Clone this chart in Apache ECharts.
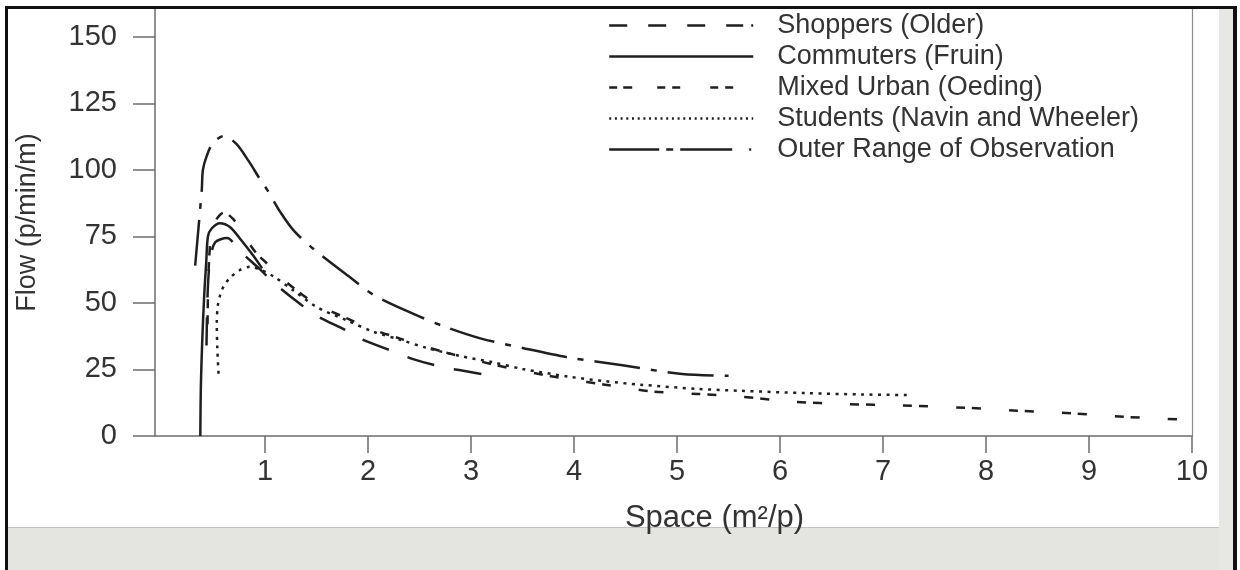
<!DOCTYPE html>
<html>
<head>
<meta charset="utf-8">
<script src="https://cdn.jsdelivr.net/npm/echarts@6/dist/echarts.min.js"></script>
<style>
  html, body { margin: 0; padding: 0; background: #fff; }
  #chart { width: 1240px; height: 570px; }
</style>
</head>
<body>
<div id="chart"></div>
<script>
// Flow (p/min/m) against space per pedestrian (m²/p) for several walker groups.
const seriesNames = [
  'Shoppers (Older)',
  'Commuters (Fruin)',
  'Mixed Urban (Oeding)',
  'Students (Navin and Wheeler)',
  'Outer Range of Observation'
];

const xTicks = [1, 2, 3, 4, 5, 6, 7, 8, 9, 10];
const yTicks = [0, 25, 50, 75, 100, 125, 150];

// [space, flow]
const shoppers = [
  [0.43, 34], [0.435, 45], [0.445, 57], [0.466, 66.5], [0.515, 72.8], [0.628, 74.4],
  [0.76, 69.3], [0.95, 62.6], [1.11, 56.7], [1.34, 49.6], [1.5, 45.2], [1.78, 39.8],
  [1.94, 36.3], [2.25, 31.7], [2.42, 29.1], [2.73, 25.8], [2.91, 24.6], [3.25, 22.2]
];

const commuters = [
  [0.37, 0], [0.375, 18], [0.388, 35], [0.408, 53], [0.427, 65], [0.444, 75],
  [0.48, 78], [0.56, 80], [0.66, 78.5], [0.77, 73.5], [0.88, 68], [0.97, 63]
];

const mixedUrban = [
  [0.44, 42], [0.445, 55], [0.455, 66], [0.475, 75], [0.52, 81], [0.6, 84],
  [0.69, 81.5], [0.78, 76.5], [0.86, 71.5], [0.93, 68], [1.0, 65.5], [1.1, 61.5],
  [1.28, 55.5], [1.5, 49.5], [1.79, 44.3], [2.05, 40], [2.31, 36.6], [2.57, 33.4],
  [2.89, 30], [3.2, 27], [3.5, 24.5], [3.95, 21.3], [4.3, 19.3], [4.77, 16.7],
  [5.2, 15.8], [5.61, 14.8], [6.13, 12.9], [6.65, 12.0], [7.17, 11.5], [7.8, 10.6],
  [8.3, 9.5], [8.85, 8.5], [9.35, 7.2], [9.9, 6.2]
];

const students = [
  [0.547, 23.4], [0.535, 33], [0.53, 42.8], [0.54, 49], [0.563, 53], [0.6, 56.5],
  [0.66, 59.5], [0.75, 62.3], [0.85, 63.6], [0.95, 62.6], [1.08, 60], [1.275, 54.7],
  [1.5, 48.5], [1.79, 43.5], [2.05, 39.2], [2.31, 36.2], [2.57, 33.1], [2.89, 30.1],
  [3.2, 27.8], [3.5, 25.2], [3.95, 22.3], [4.3, 20.6], [4.64, 19.3], [5.2, 17.7],
  [5.61, 17], [6.26, 16.1], [6.8, 15.6], [7.23, 15.4]
];

const outerRange = [
  [0.32, 64], [0.345, 75], [0.37, 86], [0.385, 93], [0.395, 100], [0.43, 105],
  [0.49, 110], [0.6, 112.8], [0.72, 109.8], [0.84, 103.3], [0.95, 96.5], [1.02, 92.5],
  [1.15, 84], [1.28, 77.1], [1.47, 70.3], [1.83, 59.5], [2.05, 53.1], [2.44, 45.9],
  [2.73, 41.3], [3.09, 36.7], [3.5, 33.1], [3.95, 29.5], [4.47, 26.6], [5.05, 23.3],
  [5.5, 22.6]
];

const FONT = '"Liberation Sans", Arial, Helvetica, sans-serif';
const INK = '#1f1f1f';
const TEXT = '#333333';
const AXIS = '#6c6c6c';

// dash patterns for the curves and for the legend swatches
const curveDash = [[28, 20], 'solid', [9, 7, 9, 28], [3, 5.5], [46, 11, 6, 11]];
const legendDash = [
  [18, 21, 18, 21, 18, 21, 17, 8, 2, 40],
  'solid',
  [8, 6, 9, 25, 8, 7, 8, 30, 8, 7, 8, 40],
  [2, 3.7],
  [50, 7, 7, 7, 52, 17, 2, 40]
];
const seriesData = [shoppers, commuters, mixedUrban, students, outerRange];

const chart = echarts.init(document.getElementById('chart'), null, { renderer: 'canvas' });

const option = {
  animation: false,
  backgroundColor: '#fff',
  textStyle: { fontFamily: FONT },
  graphic: {
    elements: [
      // scanned sheet edges and frame
      { type: 'rect', silent: true, z: -10, shape: { x: 8, y: 527, width: 1225, height: 43 }, style: { fill: '#e4e4e1' } },
      { type: 'rect', silent: true, z: -10, shape: { x: 1219, y: 9, width: 14, height: 561 }, style: { fill: '#e7e7e4' } },
      { type: 'line', silent: true, z: -9, shape: { x1: 8, y1: 527.5, x2: 1219, y2: 527.5 }, style: { stroke: '#c2c2be', lineWidth: 1 } },
      { type: 'rect', silent: true, z: 50, shape: { x: 5, y: 6, width: 1232, height: 3 }, style: { fill: '#111' } },
      { type: 'rect', silent: true, z: 50, shape: { x: 5, y: 6, width: 3, height: 564 }, style: { fill: '#111' } },
      { type: 'rect', silent: true, z: 50, shape: { x: 1233, y: 6, width: 4, height: 564 }, style: { fill: '#111' } }
    ]
  },
  grid: { left: 155, right: 48, top: 9, bottom: 134, containLabel: false },
  legend: {
    orient: 'vertical',
    left: 608,
    top: 12,
    padding: 0,
    itemGap: 4,
    itemWidth: 144,
    itemHeight: 14,
    selectedMode: false,
    textStyle: { fontSize: 27, color: TEXT, lineHeight: 27, padding: [0, 0, 0, 19] },
    data: seriesNames.map((name, i) => ({
      name,
      itemStyle: { color: 'rgba(0,0,0,0)', opacity: 0, borderWidth: 0 },
      lineStyle: { type: legendDash[i], color: INK, width: 2.4, cap: 'butt' }
    }))
  },
  xAxis: {
    type: 'value',
    min: -0.07,
    max: 10,
    name: 'Space (m²/p)',
    nameLocation: 'middle',
    nameGap: 67,
    nameTextStyle: { fontSize: 31, color: TEXT, padding: [0, 0, 0, 82] },
    axisLine: { show: true, onZero: false, lineStyle: { color: AXIS, width: 1.5 } },
    axisTick: { show: true, customValues: xTicks, length: 17, lineStyle: { color: AXIS, width: 1.5 } },
    axisLabel: { customValues: xTicks, fontSize: 29, color: TEXT, margin: 21 },
    splitLine: { show: false }
  },
  yAxis: [
    {
      type: 'value',
      min: 0,
      max: 160.5,
      name: 'Flow (p/min/m)',
      nameLocation: 'middle',
      nameGap: 114,
      nameTextStyle: { fontSize: 27, color: TEXT },
      axisLine: { show: true, onZero: false, lineStyle: { color: AXIS, width: 1.5 } },
      axisTick: { show: true, customValues: yTicks, length: 22, lineStyle: { color: AXIS, width: 1.5 } },
      axisLabel: { customValues: yTicks, fontSize: 29, color: TEXT, margin: 38 },
      splitLine: { show: false }
    },
    {
      type: 'value',
      min: 0,
      max: 160.5,
      position: 'right',
      axisLine: { show: true, onZero: false, lineStyle: { color: '#8c8c8c', width: 1.2 } },
      axisTick: { show: false },
      axisLabel: { show: false },
      splitLine: { show: false }
    }
  ],
  series: seriesNames.map((name, i) => ({
    name,
    type: 'line',
    data: seriesData[i],
    smooth: 0.3,
    symbol: 'none',
    showSymbol: false,
    emphasis: { disabled: true },
    lineStyle: { color: INK, width: 2.5, type: curveDash[i], cap: 'butt' },
    itemStyle: { color: INK }
  }))
};

chart.setOption(option);
</script>
</body>
</html>
